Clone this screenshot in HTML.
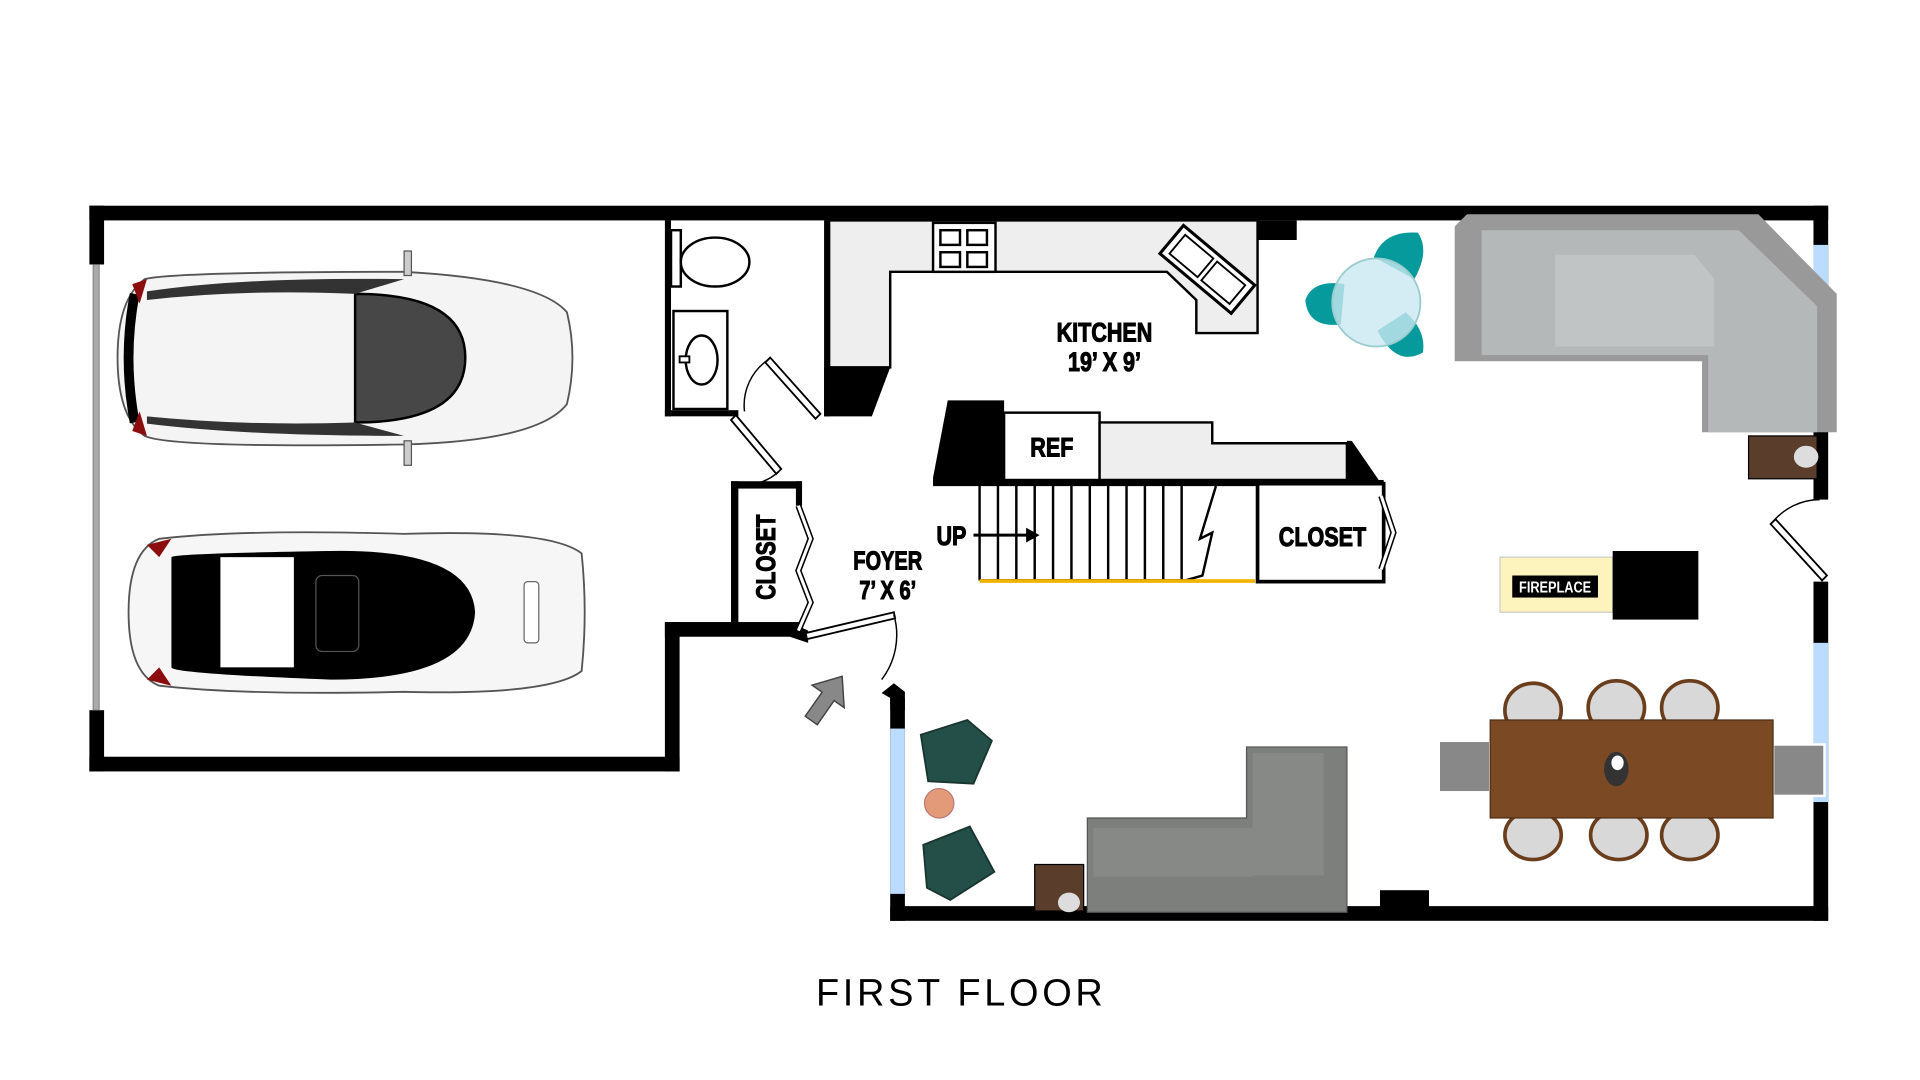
<!DOCTYPE html>
<html><head><meta charset="utf-8"><style>
html,body{margin:0;padding:0;background:#fff;}
svg{display:block;}
.lb{font-family:"Liberation Sans",sans-serif;font-weight:bold;stroke:#000;stroke-width:0.9;}
</style></head><body>
<svg width="1920" height="1080" viewBox="0 0 1568 882" preserveAspectRatio="none">
<rect x="0" y="0" width="1568" height="882" fill="#fff"/>
<rect x="73" y="168" width="1420" height="12" fill="#000"/>
<rect x="73" y="168" width="12" height="48" fill="#000"/>
<rect x="73" y="580" width="12" height="50" fill="#000"/>
<rect x="76" y="216" width="5" height="364" fill="#aaa" stroke="#666" stroke-width="0.6"/>
<rect x="73" y="618" width="482" height="12" fill="#000"/>
<rect x="543" y="508" width="12" height="122" fill="#000"/>
<rect x="543" y="508" width="112" height="12" fill="#000"/>
<polygon points="645,508 660,515 660,525 645,520" fill="#000"/>
<rect x="543" y="180" width="5" height="160" fill="#000"/>
<rect x="543" y="335" width="60" height="5" fill="#000"/>
<rect x="548" y="188" width="8" height="46" fill="#fff" stroke="#000" stroke-width="2"/>
<ellipse cx="584" cy="214" rx="28" ry="20" fill="#fff" stroke="#000" stroke-width="2"/>
<rect x="550" y="254" width="44" height="80" fill="#fff" stroke="#000" stroke-width="2"/>
<ellipse cx="573" cy="294" rx="13" ry="20" fill="#fff" stroke="#000" stroke-width="2"/>
<rect x="555" y="291" width="8" height="5" fill="#fff" stroke="#000" stroke-width="1.5"/>
<polygon points="625,296 629,292 670,338 666,342" fill="#fff" stroke="#000" stroke-width="1.5"/>
<path d="M627,294 A45,45 0 0 0 608,336" fill="none" stroke="#000" stroke-width="1.2"/>
<polygon points="597,343 601,339 638,383 634,387" fill="#fff" stroke="#000" stroke-width="1.5"/>
<path d="M636,385 A40,40 0 0 1 600,395" fill="none" stroke="#000" stroke-width="1.2"/>
<rect x="597" y="393" width="6" height="122" fill="#000"/>
<rect x="597" y="393" width="58" height="6" fill="#000"/>
<rect x="650" y="393" width="5" height="20" fill="#000"/>
<polyline points="652,413 662,440 652,466 662,492 652,515" fill="none" stroke="#000" stroke-width="5"/>
<polyline points="652,413 662,440 652,466 662,492 652,515" fill="none" stroke="#fff" stroke-width="2.5"/>
<text class="lb" transform="translate(633,455) rotate(-90) scale(0.78,1)" font-size="22" font-weight="bold" text-anchor="middle">CLOSET</text>
<polygon points="658,517 730,500 731,505 659,522" fill="#fff" stroke="#000" stroke-width="1.5"/>
<path d="M730,502 A60,60 0 0 1 720,555" fill="none" stroke="#000" stroke-width="1.2"/>
<polygon points="720,566 730,558 739,565 739,580 727,580 727,570" fill="#000"/>
<text class="lb" transform="translate(725,465) scale(0.78,1)" font-size="21" font-weight="bold" text-anchor="middle">FOYER</text>
<text class="lb" transform="translate(725,489) scale(0.78,1)" font-size="21" font-weight="bold" text-anchor="middle">7’ X 6’</text>
<g transform="translate(674,572) rotate(35)">
<polygon points="0,-24 -16,-4 -6,-4 -6,20 6,20 6,-4 16,-4" fill="#888" stroke="#444" stroke-width="1.2"/>
</g>
<path d="M677,180 H1027 V272 H977 V245 L953,222 H727 V300 H677 Z" fill="#eee" stroke="#000" stroke-width="2"/>
<polygon points="673,300 727,300 712,340 673,340" fill="#000"/>
<rect x="673" y="180" width="5" height="160" fill="#000"/>
<rect x="762" y="182" width="51" height="40" fill="#fff" stroke="#000" stroke-width="2"/>
<rect x="768" y="188" width="16" height="12" fill="#fff" stroke="#000" stroke-width="2"/>
<rect x="790" y="188" width="16" height="12" fill="#fff" stroke="#000" stroke-width="2"/>
<rect x="768" y="206" width="16" height="12" fill="#fff" stroke="#000" stroke-width="2"/>
<rect x="790" y="206" width="16" height="12" fill="#fff" stroke="#000" stroke-width="2"/>
<g transform="translate(986,220) rotate(40)">
<rect x="-38" y="-15" width="76" height="30" fill="#fff" stroke="#000" stroke-width="2.5"/>
<rect x="-32" y="-10" width="30" height="20" fill="#fff" stroke="#000" stroke-width="1.5"/>
<rect x="2" y="-10" width="30" height="20" fill="#fff" stroke="#000" stroke-width="1.5"/>
</g>
<rect x="1027" y="180" width="32" height="16" fill="#000"/>
<text class="lb" transform="translate(902,279) scale(0.8,1)" font-size="22" font-weight="bold" text-anchor="middle">KITCHEN</text>
<text class="lb" transform="translate(902,303) scale(0.8,1)" font-size="22" font-weight="bold" text-anchor="middle">19’ X 9’</text>
<polygon points="774,327 820,327 820,395 762,395 762,390" fill="#000"/>
<rect x="820" y="337" width="78" height="55" fill="#fff" stroke="#000" stroke-width="2"/>
<text class="lb" transform="translate(859,373) scale(0.8,1)" font-size="22" font-weight="bold" text-anchor="middle">REF</text>
<path d="M898,345 H990 V362 H1100 V392 H898 Z" fill="#eee" stroke="#000" stroke-width="2"/>
<polygon points="1100,360 1104,360 1128,395 1100,395" fill="#000"/>
<rect x="762" y="392" width="368" height="5" fill="#000"/>
<g stroke="#000" stroke-width="2">
<line x1="800" y1="395" x2="800" y2="474"/><line x1="815" y1="395" x2="815" y2="474"/>
<line x1="830" y1="395" x2="830" y2="474"/><line x1="845" y1="395" x2="845" y2="474"/>
<line x1="860" y1="395" x2="860" y2="474"/><line x1="875" y1="395" x2="875" y2="474"/>
<line x1="890" y1="395" x2="890" y2="474"/><line x1="905" y1="395" x2="905" y2="474"/>
<line x1="920" y1="395" x2="920" y2="474"/><line x1="935" y1="395" x2="935" y2="474"/>
<line x1="950" y1="395" x2="950" y2="474"/><line x1="965" y1="395" x2="965" y2="474"/>
<line x1="800" y1="474" x2="968" y2="474"/>
</g>
<polyline points="993,397 980,440 990,435 982,470 968,474" fill="none" stroke="#000" stroke-width="2"/>
<rect x="800" y="473" width="225" height="3" fill="#f0b400"/>
<line x1="795" y1="437" x2="840" y2="437" stroke="#000" stroke-width="2.5"/>
<polygon points="838,431 849,437 838,443" fill="#000"/>
<text class="lb" transform="translate(777,445) scale(0.8,1)" font-size="22" font-weight="bold" text-anchor="middle">UP</text>
<rect x="1027" y="395" width="103" height="80" fill="#fff" stroke="#000" stroke-width="3"/>
<polyline points="1128,405 1138,435 1128,465" fill="none" stroke="#000" stroke-width="5"/>
<polyline points="1128,405 1138,435 1128,465" fill="none" stroke="#fff" stroke-width="2.5"/>
<text class="lb" transform="translate(1080,446) scale(0.8,1)" font-size="22" font-weight="bold" text-anchor="middle">CLOSET</text>
<rect x="1481" y="168" width="12" height="240" fill="#000"/>
<rect x="1481" y="200" width="12" height="150" fill="#bcdcff"/>
<rect x="1481" y="475" width="12" height="277" fill="#000"/>
<rect x="1481" y="525" width="12" height="130" fill="#bcdcff"/>
<polygon points="1446,428 1450,424 1492,470 1488,474" fill="#fff" stroke="#000" stroke-width="1.5"/>
<path d="M1448,426 A50,50 0 0 1 1486,408" fill="none" stroke="#000" stroke-width="1.2"/>
<rect x="727" y="740" width="766" height="12" fill="#000"/>
<rect x="727" y="570" width="12" height="182" fill="#000"/>
<rect x="727" y="595" width="12" height="135" fill="#bcdcff"/>
<rect x="1127" y="727" width="40" height="14" fill="#000"/>
<rect x="1225" y="455" width="92" height="45" fill="#fdf3bd" stroke="#ccc" stroke-width="1"/>
<rect x="1317" y="450" width="70" height="56" fill="#000"/>
<rect x="1235" y="470" width="70" height="18" fill="#000"/>
<text class="lb" transform="translate(1270,484) scale(0.8,1)" font-size="13" font-weight="bold" fill="#fff" style="stroke:none" text-anchor="middle">FIREPLACE</text>
<path d="M1198,175 H1436 L1500,240 V353 H1390 V295 H1188 V185 Z" fill="#999"/>
<path d="M1210,188 H1420 L1484,250 V353 H1395 V290 H1210 Z" fill="#b4b8b8"/>
<path d="M1270,208 H1384 L1400,228 V283 H1270 Z" fill="#c0c4c4"/>
<rect x="1428" y="356" width="56" height="35" fill="#5a3e2b" stroke="#000" stroke-width="1"/>
<ellipse cx="1475" cy="373" rx="10" ry="9" fill="#ddd"/>
<path d="M1122,210 Q1130,188 1158,190 Q1168,205 1155,228 Z" fill="#079a9c"/>
<path d="M1098,232 Q1072,228 1066,245 Q1068,268 1095,265 Z" fill="#079a9c"/>
<path d="M1125,270 Q1140,300 1162,288 Q1165,270 1148,255 Z" fill="#079a9c"/>
<circle cx="1124" cy="247" r="36" fill="#c9e9f3" fill-opacity="0.8" stroke="#9cc" stroke-width="1.5"/>
<path d="M752,600 L790,588 L810,605 L795,640 L758,638 Z" fill="#244f48" stroke="#183530" stroke-width="1.5"/>
<circle cx="767" cy="656" r="12" fill="#e39a78" stroke="#b77" stroke-width="1"/>
<path d="M754,690 L792,675 L812,712 L776,735 L757,725 Z" fill="#244f48" stroke="#183530" stroke-width="1.5"/>
<path d="M1018,610 H1100 V745 H888 V668 H1018 Z" fill="#7d7f7c" stroke="#555" stroke-width="1"/>
<rect x="1023" y="615" width="58" height="100" fill="#878986"/>
<rect x="893" y="676" width="130" height="40" fill="#878986"/>
<rect x="845" y="706" width="40" height="38" fill="#5a3e2b" stroke="#000" stroke-width="1"/>
<ellipse cx="873" cy="737" rx="9" ry="8" fill="#ddd"/>
<g fill="#d8d8d8" stroke="#6a3d1c" stroke-width="3">
<ellipse cx="1252" cy="580" rx="23" ry="22"/><ellipse cx="1320" cy="578" rx="23" ry="22"/><ellipse cx="1380" cy="578" rx="23" ry="22"/>
<ellipse cx="1252" cy="682" rx="23" ry="20"/><ellipse cx="1322" cy="682" rx="23" ry="20"/><ellipse cx="1380" cy="682" rx="23" ry="20"/>
</g>
<rect x="1175" y="605" width="42" height="42" fill="#888" stroke="#fff" stroke-width="2"/>
<rect x="1448" y="608" width="42" height="42" fill="#888" stroke="#fff" stroke-width="2"/>
<rect x="1217" y="588" width="231" height="80" fill="#7b4a25" stroke="#4e2d14" stroke-width="1"/>
<ellipse cx="1320" cy="628" rx="10" ry="14" fill="#333"/>
<ellipse cx="1321" cy="623" rx="5" ry="6" fill="#fff"/>
<g>
<path d="M118,228 Q140,222 330,222 Q440,228 463,255 Q472,292 463,330 Q440,360 330,363 Q140,366 118,356 Q96,340 96,292 Q96,244 118,228 Z" fill="#f4f4f4" stroke="#555" stroke-width="1.5"/>
<path d="M110,240 Q100,292 110,345" fill="none" stroke="#000" stroke-width="8"/>
<path d="M108,232 L120,228 L114,248 Z" fill="#8b0d0d"/><path d="M108,352 L120,356 L114,336 Z" fill="#8b0d0d"/>
<path d="M290,240 Q380,240 380,292 Q380,345 290,345 Z" fill="#474747" stroke="#000" stroke-width="2"/>
<path d="M120,238 Q200,226 330,228 L290,240 Q200,236 120,245 Z" fill="#333"/>
<path d="M120,346 Q200,356 330,356 L290,345 Q200,348 120,340 Z" fill="#333"/>
<rect x="330" y="205" width="6" height="20" fill="#ccc" stroke="#555"/>
<rect x="330" y="360" width="6" height="20" fill="#ccc" stroke="#555"/>
</g>
<g>
<path d="M130,440 Q200,432 330,436 Q450,432 475,452 Q480,500 475,548 Q450,568 330,565 Q200,568 130,560 Q105,550 105,500 Q105,450 130,440 Z" fill="#f6f6f6" stroke="#555" stroke-width="1.5"/>
<path d="M140,455 Q140,452 270,450 Q385,448 388,500 Q385,555 270,555 Q140,550 140,545 Z" fill="#000"/>
<rect x="180" y="455" width="60" height="90" fill="#fff"/>
<rect x="258" y="470" width="35" height="62" rx="5" fill="#000" stroke="#555"/>
<path d="M120,445 L140,440 L130,455 Z" fill="#8b0d0d"/><path d="M120,555 L140,560 L130,545 Z" fill="#8b0d0d"/>
<rect x="428" y="475" width="12" height="50" rx="3" fill="#fff" stroke="#666"/>
</g>
<text x="785" y="821" font-size="31" letter-spacing="3" text-anchor="middle" style="font-family:'Liberation Sans',sans-serif">FIRST FLOOR</text>
</svg>
</body></html>
